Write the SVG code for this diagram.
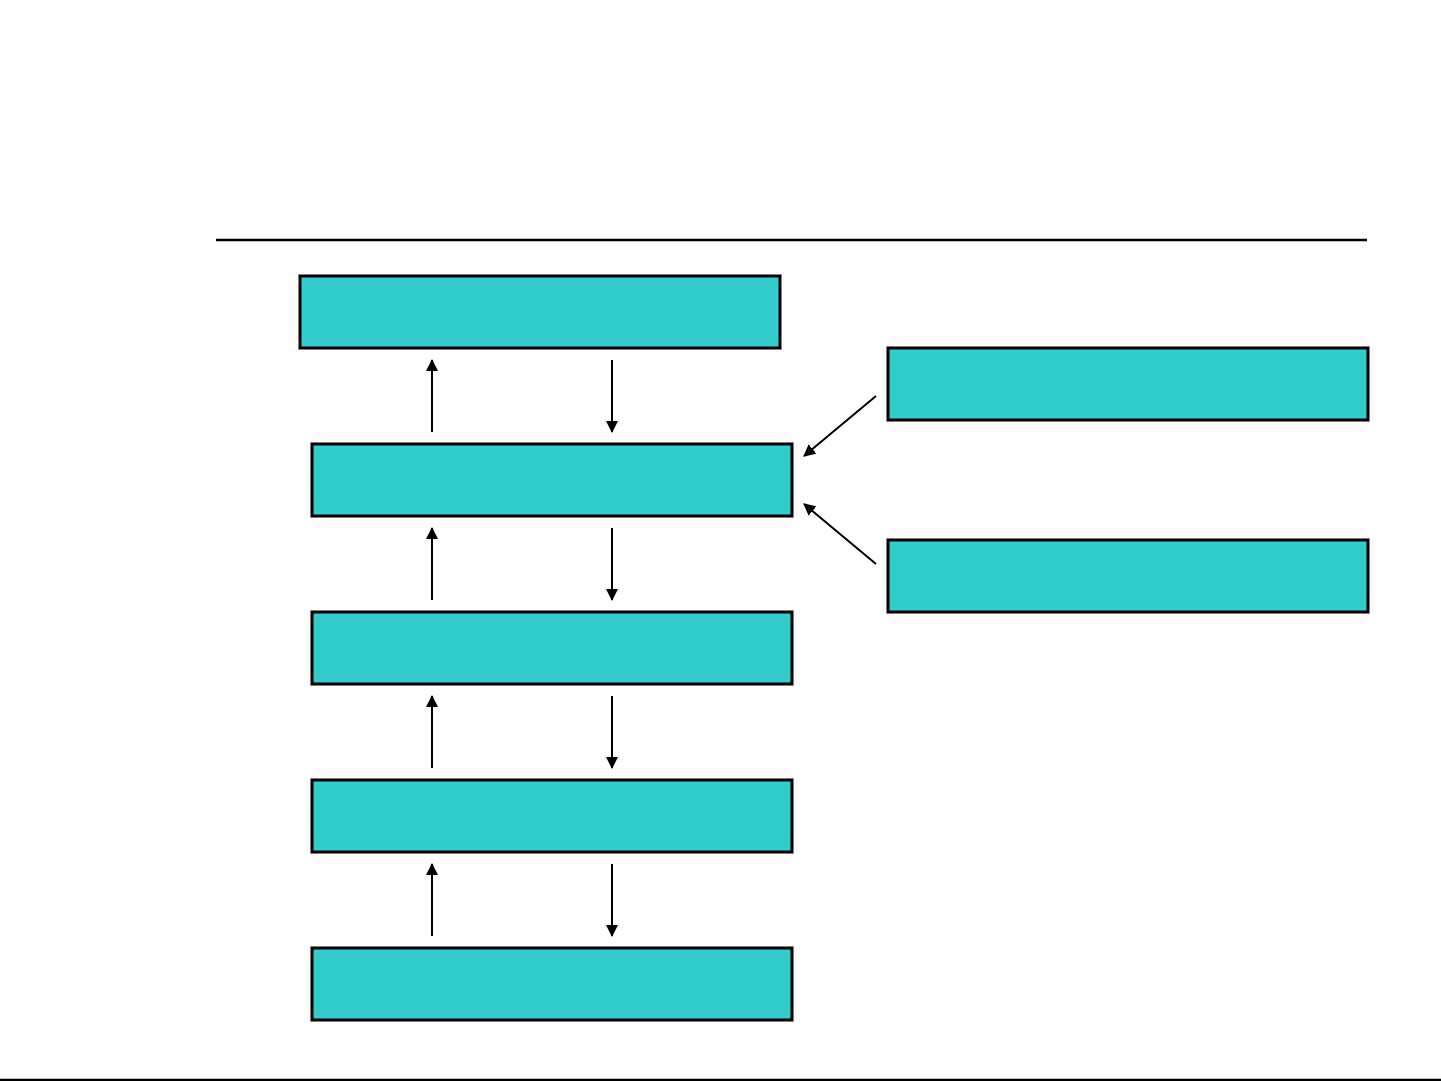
<svg xmlns="http://www.w3.org/2000/svg" width="1441" height="1081" viewBox="0 0 1441 1081">
<defs>
<style>
.box{fill:#33CCCC;stroke:#000;stroke-width:3}
.rule{stroke:#000;stroke-width:2.5}
.arr{stroke:#000;stroke-width:2;fill:none;marker-end:url(#ah)}
</style>
<marker id="ah" markerWidth="12" markerHeight="12" viewBox="0 0 12 12" refX="11" refY="6" orient="auto" markerUnits="userSpaceOnUse">
<path d="M0,0 L12,6 L0,12 Z" fill="#000"/>
</marker>
</defs>
<rect width="1441" height="1081" fill="#fff"/>
<line class="rule" x1="216" y1="240" x2="1367" y2="240"/>
<line class="rule" x1="0" y1="1080" x2="1441" y2="1080"/>
<g id="node1"><rect class="box" x="300" y="276" width="480" height="72"/></g>
<g id="node2"><rect class="box" x="312" y="444" width="480" height="72"/></g>
<g id="node3"><rect class="box" x="312" y="612" width="480" height="72"/></g>
<g id="node4"><rect class="box" x="312" y="780" width="480" height="72"/></g>
<g id="node5"><rect class="box" x="312" y="948" width="480" height="72"/></g>
<g id="node6"><rect class="box" x="888" y="348" width="480" height="72"/></g>
<g id="node7"><rect class="box" x="888" y="540" width="480" height="72"/></g>
<g id="connectors">
<line class="arr" x1="432" y1="432" x2="432" y2="360"/>
<line class="arr" x1="612" y1="360" x2="612" y2="432"/>
<line class="arr" x1="432" y1="600" x2="432" y2="528"/>
<line class="arr" x1="612" y1="528" x2="612" y2="600"/>
<line class="arr" x1="432" y1="768" x2="432" y2="696"/>
<line class="arr" x1="612" y1="696" x2="612" y2="768"/>
<line class="arr" x1="432" y1="936" x2="432" y2="864"/>
<line class="arr" x1="612" y1="864" x2="612" y2="936"/>
<line class="arr" x1="876" y1="396" x2="804" y2="456"/>
<line class="arr" x1="876" y1="564" x2="804" y2="504"/>
</g>
</svg>
